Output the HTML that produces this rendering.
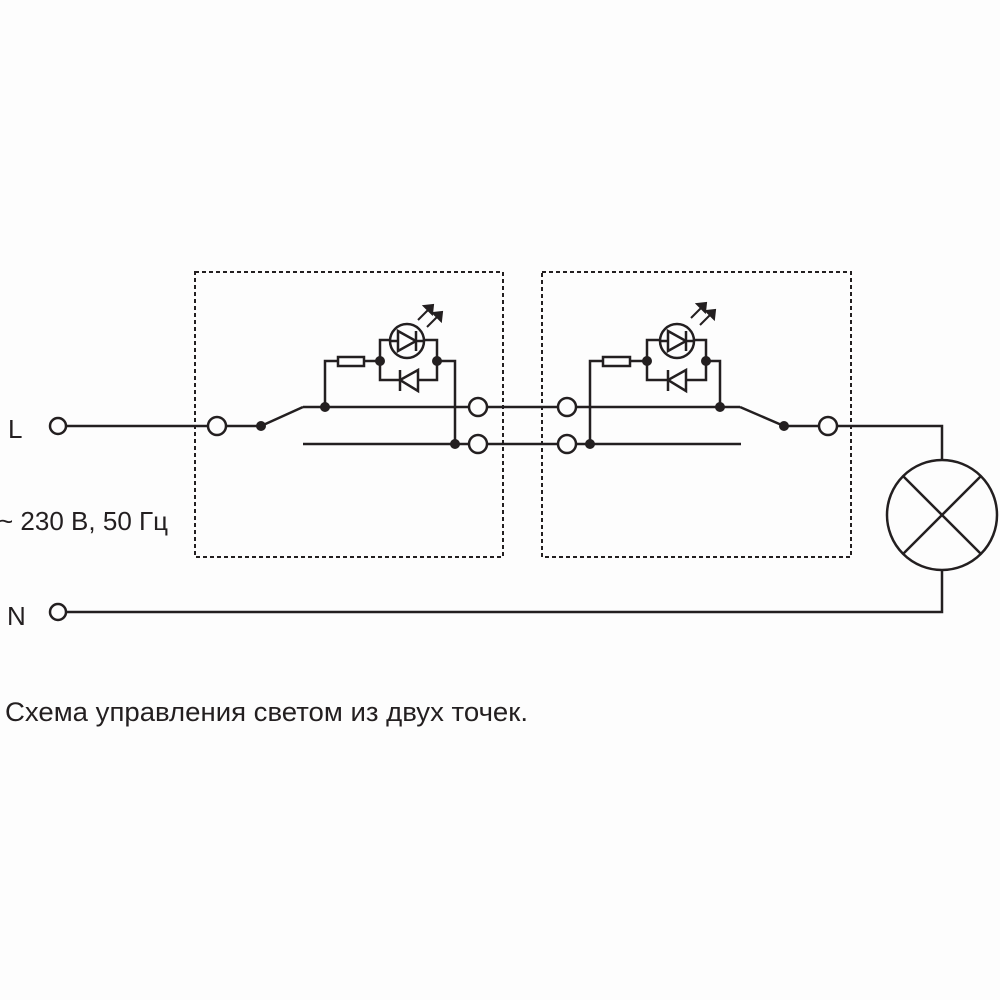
<!DOCTYPE html>
<html><head><meta charset="utf-8"><style>
html,body{margin:0;padding:0;background:#fdfdfd;}
svg{display:block}
text{font-family:"Liberation Sans",sans-serif;fill:#231f20;}
</style></head><body>
<svg width="1000" height="1000" viewBox="0 0 1000 1000">
<g stroke="#231f20" stroke-width="2.5" fill="none">
<rect x="195" y="272" width="308" height="285" stroke-dasharray="4,3" stroke-width="2"/>
<rect x="542" y="272" width="309" height="285" stroke-dasharray="4,3" stroke-width="2"/>
<line x1="66" y1="426" x2="208" y2="426"/>
<line x1="226" y1="426" x2="261" y2="426"/>
<line x1="261" y1="426" x2="303" y2="407"/>
<line x1="303" y1="407" x2="469" y2="407"/>
<line x1="303" y1="444" x2="469" y2="444"/>
<line x1="487" y1="407" x2="558" y2="407"/>
<line x1="487" y1="444" x2="558" y2="444"/>
<polyline points="325,407 325,361 338,361"/>
<rect x="338" y="357" width="26" height="9"/>
<line x1="364" y1="361" x2="380" y2="361"/>
<polyline points="380,361 380,340 437,340 437,361"/>
<polyline points="380,361 380,380 437,380 437,361"/>
<circle cx="407" cy="341" r="17" fill="#fdfdfd"/>
<line x1="390" y1="341" x2="424" y2="341"/>
<polygon points="398,331 398,351 416,341" fill="#fdfdfd"/>
<line x1="416" y1="331" x2="416" y2="351"/>
<polygon points="418,370 418,391 400,380" fill="#fdfdfd"/>
<line x1="400" y1="370" x2="400" y2="391"/>
<polyline points="437,361 455,361 455,444"/>
<line x1="576" y1="407" x2="740" y2="407"/>
<line x1="576" y1="444" x2="741" y2="444"/>
<polyline points="590,444 590,361 603,361"/>
<rect x="603" y="357" width="27" height="9"/>
<line x1="630" y1="361" x2="647" y2="361"/>
<polyline points="647,361 647,340 706,340 706,361"/>
<polyline points="647,361 647,380 706,380 706,361"/>
<circle cx="677" cy="341" r="17" fill="#fdfdfd"/>
<line x1="660" y1="341" x2="694" y2="341"/>
<polygon points="668,331 668,351 686,341" fill="#fdfdfd"/>
<line x1="686" y1="331" x2="686" y2="351"/>
<polygon points="686,370 686,391 668,380" fill="#fdfdfd"/>
<line x1="668" y1="370" x2="668" y2="391"/>
<polyline points="706,361 720,361 720,407"/>
<line x1="740" y1="407" x2="784" y2="426"/>
<line x1="784" y1="426" x2="819" y2="426"/>
<polyline points="837,426 942,426 942,460"/>
<circle cx="942" cy="515" r="55"/>
<line x1="903" y1="476" x2="981" y2="554"/>
<line x1="981" y1="476" x2="903" y2="554"/>
<polyline points="942,570 942,612 66,612"/>
<g stroke-width="2">
<line x1="418" y1="320" x2="430" y2="308"/><polygon points="424,306 433,305 432,314" fill="#231f20"/>
<line x1="427" y1="327" x2="439" y2="315"/><polygon points="433,313 442,312 441,321" fill="#231f20"/>
<line x1="691" y1="318" x2="703" y2="306"/><polygon points="697,304 706,303 705,312" fill="#231f20"/>
<line x1="700" y1="325" x2="712" y2="313"/><polygon points="706,311 715,310 714,319" fill="#231f20"/>
</g>
<g fill="#fdfdfd">
<circle cx="58" cy="426" r="8"/>
<circle cx="58" cy="612" r="8"/>
<circle cx="217" cy="426" r="9"/>
<circle cx="478" cy="407" r="9"/>
<circle cx="478" cy="444" r="9"/>
<circle cx="567" cy="407" r="9"/>
<circle cx="567" cy="444" r="9"/>
<circle cx="828" cy="426" r="9"/>
</g>
</g>
<g fill="#231f20">
<circle cx="261" cy="426" r="5"/>
<circle cx="325" cy="407" r="5"/>
<circle cx="380" cy="361" r="5"/>
<circle cx="437" cy="361" r="5"/>
<circle cx="455" cy="444" r="5"/>
<circle cx="590" cy="444" r="5"/>
<circle cx="647" cy="361" r="5"/>
<circle cx="706" cy="361" r="5"/>
<circle cx="720" cy="407" r="5"/>
<circle cx="784" cy="426" r="5"/>
</g>
<text x="8" y="438" font-size="26">L</text>
<text x="-2" y="530" font-size="26" textLength="170" lengthAdjust="spacingAndGlyphs">~ 230 В, 50 Гц</text>
<text x="7" y="625" font-size="26">N</text>
<text x="5" y="721" font-size="27" textLength="523" lengthAdjust="spacingAndGlyphs">Схема управления светом из двух точек.</text>
</svg>
</body></html>
